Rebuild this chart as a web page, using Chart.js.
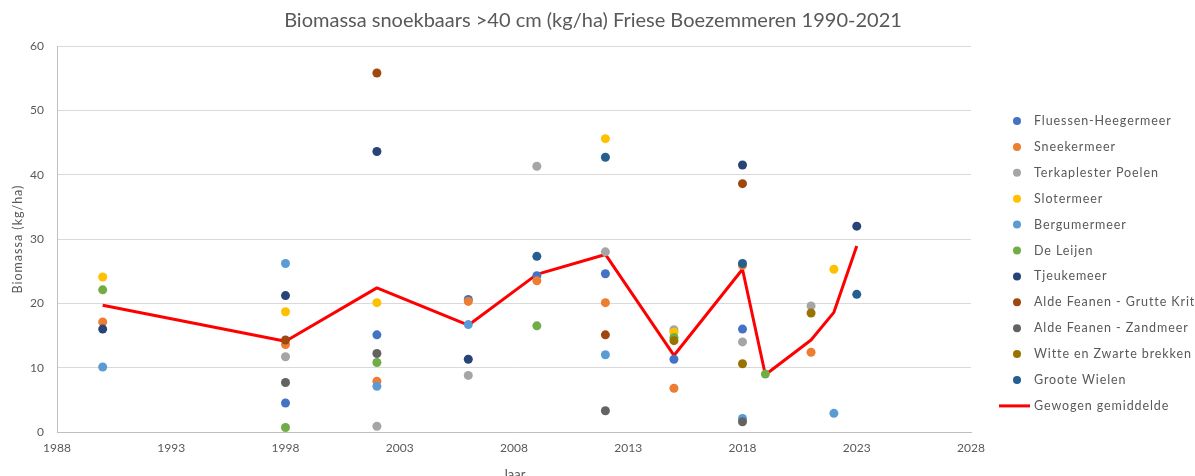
<!DOCTYPE html>
<html lang="nl">
<head>
<meta charset="utf-8">
<title>Biomassa snoekbaars Friese Boezemmeren</title>
<script src="https://cdn.jsdelivr.net/npm/chart.js"></script>
<style>
  html, body { margin: 0; padding: 0; background: #fff; overflow: hidden; }
  #wrap { position: relative; width: 1195px; height: 490px; }
</style>
</head>
<body>
<div id="wrap"><canvas id="biomassaChart"></canvas></div>
<script>
// Jaren van de bemonstering (x-as)
const jaren = [1990, 1998, 2002, 2006, 2009, 2012, 2015, 2018, 2019, 2021, 2022, 2023];

// Biomassa per meer (kg/ha), null = niet bemonsterd
const fluessen     = [null, 4.5, 15.1, 20.6, 24.3, 24.6, 11.3, 16.0, null, null, null, null];
const sneekermeer  = [17.1, 13.6, 7.9, 20.3, 23.5, 20.1, 6.8, 25.9, null, 12.4, null, null];
const terkaplester = [null, 11.7, 0.9, 8.8, 41.3, 28.0, 15.9, 14.0, null, 19.6, null, null];
const slotermeer   = [24.1, 18.7, 20.1, null, null, 45.6, 15.5, null, null, null, 25.3, null];
const bergumermeer = [10.1, 26.2, 7.1, 16.7, null, 12.0, null, 2.1, null, null, 2.9, null];
const deLeijen     = [22.1, 0.7, 10.8, null, 16.5, null, 14.7, null, 9.0, null, null, null];
const tjeukemeer   = [16.0, 21.2, 43.6, 11.3, null, null, null, 41.5, null, null, null, 32.0];
const grutteKrite  = [null, 14.3, 55.8, null, null, 15.1, null, 38.6, null, null, null, null];
const zandmeer     = [null, 7.7, 12.2, null, null, 3.3, null, 1.6, null, null, null, null];
const witteZwarte  = [null, null, null, null, null, null, 14.2, 10.6, null, 18.5, null, null];
const grooteWielen = [null, null, null, null, 27.3, 42.7, null, 26.2, null, null, null, 21.4];
const gemiddelde   = [19.7, 14.1, 22.4, 16.6, 24.5, 27.6, 11.9, 25.3, 8.9, 14.3, 18.6, 28.9];

const meren = ['Fluessen-Heegermeer', 'Sneekermeer', 'Terkaplester Poelen', 'Slotermeer',
  'Bergumermeer', 'De Leijen', 'Tjeukemeer', 'Alde Feanen - Grutte Krite',
  'Alde Feanen - Zandmeer', 'Witte en Zwarte brekken', 'Groote Wielen'];
const reeksen = [fluessen, sneekermeer, terkaplester, slotermeer, bergumermeer, deLeijen,
  tjeukemeer, grutteKrite, zandmeer, witteZwarte, grooteWielen];
const kleuren = ['#4472C4', '#ED7D31', '#A5A5A5', '#FFC000', '#5B9BD5', '#70AD47',
  '#264478', '#9E480E', '#636363', '#997300', '#255E91'];

// Aslabels
const xTicks = [1988, 1993, 1998, 2003, 2008, 2013, 2018, 2023, 2028];
const yTicks = [0, 10, 20, 30, 40, 50, 60];

const titel = 'Biomassa snoekbaars >40 cm (kg/ha) Friese Boezemmeren 1990-2021';
const yTitel = 'Biomassa (kg/ha)';
const grijs = '#595959';
const lettertype = 'Lato, "Open Sans", sans-serif';

function punten(reeks) {
    return jaren.map((jaar, i) => ({ x: jaar, y: reeks[i] })).filter(p => p.y !== null);
}

const datasets = meren.map((naam, i) => ({
    label: naam,
    data: punten(reeksen[i]),
    backgroundColor: kleuren[i],
    borderColor: kleuren[i],
    borderWidth: 0,
    pointRadius: 4.5,
    pointHoverRadius: 4.5,
    order: meren.length - i   // latere reeksen bovenop, zoals in Excel
}));
datasets.push({
    label: 'Gewogen gemiddelde',
    data: punten(gemiddelde),
    showLine: true,
    borderColor: '#FF0000',
    backgroundColor: '#FF0000',
    borderWidth: 3,
    borderJoinStyle: 'round',
    pointRadius: 0,
    order: 99
});

// Titel, y-astitel en legenda zelf tekenen (legenda loopt rechts van het canvas af)
const tekstPlugin = {
    id: 'tekstPlugin',
    afterDraw(chart) {
        const ctx = chart.ctx;
        ctx.save();
        ctx.fillStyle = grijs;
        ctx.textBaseline = 'middle';
        ctx.textAlign = 'center';
        ctx.font = '20px ' + lettertype;
        ctx.fillText(titel, 593, 21);

        ctx.font = '12.5px ' + lettertype;
        ctx.letterSpacing = '1px';
        ctx.save();
        ctx.translate(18, 239);
        ctx.rotate(-Math.PI / 2);
        ctx.fillText(yTitel, 0, 0);
        ctx.restore();

        ctx.textAlign = 'left';
        ctx.letterSpacing = '0.9px';
        chart.data.datasets.forEach((ds, i) => {
            const y = 121 + i * 25.9;
            if (ds.showLine) {
                ctx.strokeStyle = ds.borderColor;
                ctx.lineWidth = 3;
                ctx.beginPath();
                ctx.moveTo(999, y);
                ctx.lineTo(1030, y);
                ctx.stroke();
            } else {
                ctx.fillStyle = ds.backgroundColor;
                ctx.beginPath();
                ctx.arc(1017, y, 4, 0, Math.PI * 2);
                ctx.fill();
            }
            ctx.fillStyle = grijs;
            ctx.fillText(ds.label, 1034, y);
        });
        ctx.restore();
    }
};

const ctx = document.getElementById('biomassaChart').getContext('2d');
new Chart(ctx, {
    type: 'scatter',
    data: { datasets: datasets },
    options: {
        responsive: true,
        maintainAspectRatio: false,
        animation: false,
        layout: { padding: { top: 46, right: 224, left: 0, bottom: 0 } },
        plugins: {
            legend: { display: false },
            title: { display: false },
            tooltip: { enabled: false }
        },
        scales: {
            x: {
                type: 'linear',
                min: 1988,
                max: 2028,
                afterBuildTicks: s => { s.ticks = xTicks.map(v => ({ value: v })); },
                afterFit: s => { s.height = 58; },
                grid: { display: false, drawTicks: false },
                border: { display: true, color: '#BFBFBF', width: 1 },
                ticks: { color: grijs, font: { family: lettertype, size: 12 }, padding: 9,
                    maxRotation: 0, callback: v => String(v) },
                title: { display: true, text: 'Jaar', color: grijs,
                    font: { family: lettertype, size: 13 }, padding: { top: 0, bottom: 7 } }
            },
            y: {
                min: 0,
                max: 60,
                afterBuildTicks: s => { s.ticks = yTicks.map(v => ({ value: v })); },
                afterFit: s => { s.width = 57; },
                grid: { color: '#D9D9D9', lineWidth: 1, drawTicks: false },
                border: { display: true, color: '#BFBFBF', width: 1 },
                ticks: { color: grijs, font: { family: lettertype, size: 12 }, padding: 13 },
                title: { display: false }
            }
        }
    },
    plugins: [tekstPlugin]
});
</script>
</body>
</html>
